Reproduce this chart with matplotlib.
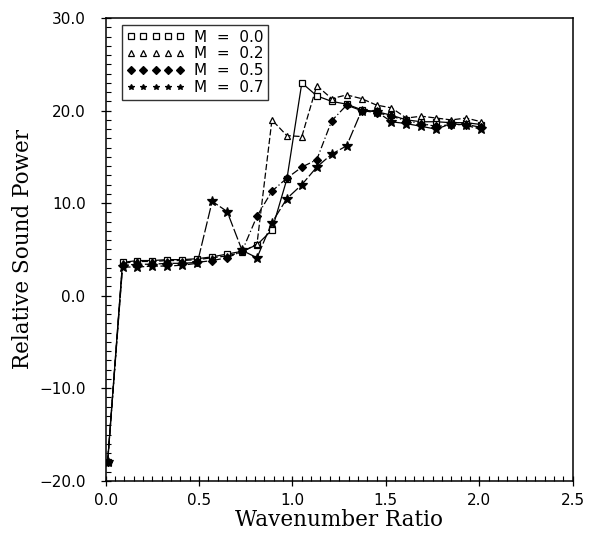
import matplotlib
matplotlib.use("Agg")
import matplotlib.pyplot as plt
from matplotlib.ticker import MultipleLocator

# ---- data ----
x_ratio = [0.01, 0.09, 0.17, 0.25, 0.33, 0.41, 0.49, 0.57, 0.65, 0.73, 0.81, 0.89, 0.97,
           1.05, 1.13, 1.21, 1.29, 1.37, 1.45, 1.53, 1.61, 1.69, 1.77, 1.85, 1.93, 2.01]
m00 = [-18.0, 3.6, 3.8, 3.8, 3.9, 3.9, 4.0, 4.2, 4.5, 4.8, 5.5, 7.1, 12.6, 23.0, 21.6,
       21.0, 20.7, 20.1, 19.9, 19.5, 19.0, 18.8, 18.8, 18.7, 18.7, 18.5]
m02 = [-18.0, 3.5, 3.7, 3.7, 3.8, 3.8, 3.9, 4.1, 4.3, 4.7, 5.6, 19.0, 17.3, 17.2, 22.7,
       21.3, 21.7, 21.3, 20.6, 20.3, 19.2, 19.4, 19.2, 19.0, 19.2, 18.8]
m05 = [-18.0, 3.3, 3.4, 3.4, 3.5, 3.5, 3.6, 3.8, 4.1, 4.8, 8.6, 11.3, 12.7, 13.9, 14.7,
       18.9, 20.6, 20.0, 19.8, 19.4, 18.9, 18.6, 18.3, 18.5, 18.5, 18.2]
m07 = [-18.0, 3.1, 3.1, 3.2, 3.2, 3.3, 3.5, 10.2, 9.1, 4.9, 4.1, 7.9, 10.5, 12.0, 13.9,
       15.3, 16.2, 20.0, 19.9, 18.8, 18.6, 18.3, 18.0, 18.6, 18.4, 18.0]
series_labels = ["M  =  0.0", "M  =  0.2", "M  =  0.5", "M  =  0.7"]
xticks = [0.0, 0.5, 1.0, 1.5, 2.0, 2.5]
xtick_labels = ["0.0", "0.5", "1.0", "1.5", "2.0", "2.5"]
yticks = [-20, -10, 0, 10, 20, 30]
ytick_labels = ["\u221220.0", "\u221210.0", "0.0", "10.0", "20.0", "30.0"]

fig = plt.figure(figsize=(5.94, 5.33), dpi=100)
ax = fig.add_axes([0.178, 0.098, 0.786, 0.868])

styles = [
    dict(marker="s", mfc="white", mec="black", ms=4.5, dashes=()),
    dict(marker="^", mfc="white", mec="black", ms=5, dashes=(5, 2)),
    dict(marker="D", mfc="black", mec="black", ms=3.8, dashes=(6, 2, 1, 2)),
    dict(marker="*", mfc="black", mec="black", ms=7, dashes=(9, 2)),
]
for ys, lab, st in zip([m00, m02, m05, m07], series_labels, styles):
    kw = dict(color="black", lw=0.9, marker=st["marker"], mfc=st["mfc"],
              mec=st["mec"], ms=st["ms"], mew=0.9, label=lab)
    if st["dashes"]:
        line, = ax.plot(x_ratio, ys, ls="--", **kw)
        line.set_dashes(st["dashes"])
    else:
        ax.plot(x_ratio, ys, ls="-", **kw)

ax.set_xlim(0, 2.5)
ax.set_ylim(-20, 30)
ax.set_xticks(xticks)
ax.set_xticklabels(xtick_labels)
ax.set_yticks(yticks)
ax.set_yticklabels(ytick_labels)
ax.xaxis.set_minor_locator(MultipleLocator(0.05))
ax.yaxis.set_minor_locator(MultipleLocator(1.0))
ax.tick_params(axis="both", which="major", direction="inout", length=7, width=0.9,
               labelsize=11, top=False, right=False, colors="black")
ax.tick_params(axis="both", which="minor", direction="in", length=3.5, width=0.8,
               top=False, right=False)
ax.tick_params(axis="x", which="major", pad=5)
ax.tick_params(axis="y", which="major", pad=11)
for sp in ax.spines.values():
    sp.set_linewidth(1.1)
    sp.set_color("black")

ax.set_xlabel("Wavenumber Ratio", family="DejaVu Serif", fontsize=15.5, labelpad=1)
ax.set_ylabel("Relative Sound Power", family="DejaVu Serif", fontsize=15.5, labelpad=4)

leg = ax.legend(loc="upper left", bbox_to_anchor=(0.035, 0.985), numpoints=5,
                handlelength=3.8, handletextpad=0.6, fontsize=11, frameon=True,
                fancybox=False, edgecolor="black", borderpad=0.3, labelspacing=0.12,
                borderaxespad=0.0)
leg.get_frame().set_linewidth(1.0)
for h in leg.get_lines():
    h.set_linestyle("none")
    h.set_markersize(4)

fig.savefig("out.png", dpi=100, facecolor="white")
